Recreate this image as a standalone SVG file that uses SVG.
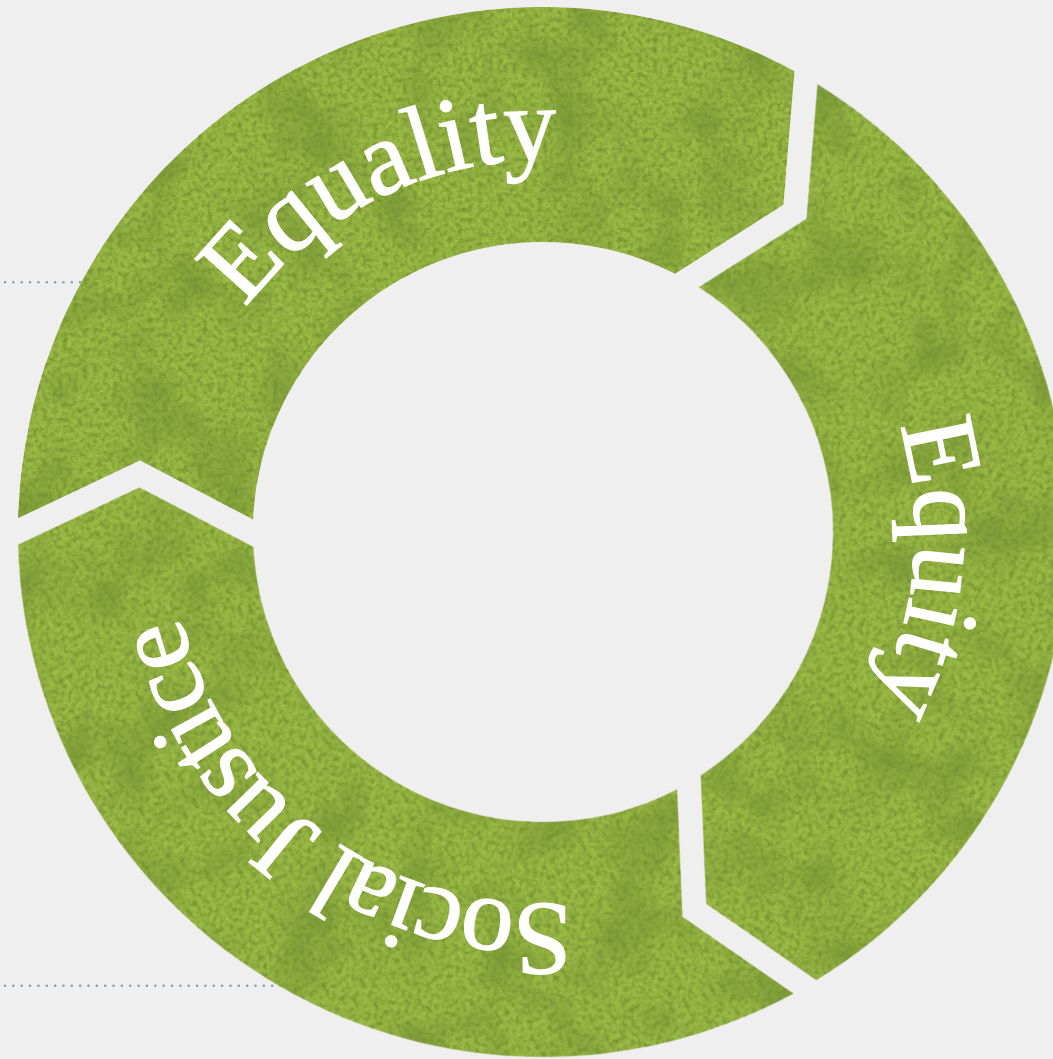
<svg xmlns="http://www.w3.org/2000/svg" xmlns:xlink="http://www.w3.org/1999/xlink" width="1053" height="1059" viewBox="0 0 1053 1059">
  <style>
    .seg { fill: #97b543; filter: url(#paper); }
    .label { font-family: "Liberation Serif", "DejaVu Serif", serif; font-size: 106px; fill: #ffffff; stroke: #ffffff; stroke-width: 1.2px; text-anchor: middle; }
    .leader { fill: none; stroke: #8e9aa7; stroke-width: 2.6; stroke-linecap: round; stroke-dasharray: 0 8.35; }
  </style>
  <defs>
    <!-- mottled watercolour-paper texture for the ring segments -->
    <filter id="paper" x="-10%" y="-10%" width="120%" height="120%" color-interpolation-filters="sRGB">
      <feTurbulence type="fractalNoise" baseFrequency="0.014" numOctaves="3" seed="11" result="blotNoise"/>
      <feColorMatrix in="blotNoise" type="matrix" values="0 0 0 0 0.42  0 0 0 0 0.54  0 0 0 0 0.19  1.7 0 0 0 -0.78" result="blot"/>
      <feTurbulence type="fractalNoise" baseFrequency="0.2" numOctaves="3" seed="4" result="grainNoise"/>
      <feColorMatrix in="grainNoise" type="matrix" values="0 0 0 0 0.45  0 0 0 0 0.57  0 0 0 0 0.19  2.2 0 0 0 -0.9" result="grainSharp"/>
      <feGaussianBlur in="grainSharp" stdDeviation="0.7" result="grain"/>
      <feTurbulence type="fractalNoise" baseFrequency="0.28" numOctaves="2" seed="23" result="speckNoise"/>
      <feColorMatrix in="speckNoise" type="matrix" values="0 0 0 0 0.66  0 0 0 0 0.77  0 0 0 0 0.31  0 1.9 0 0 -0.85" result="speckSharp"/>
      <feGaussianBlur in="speckSharp" stdDeviation="0.6" result="speck"/>
      <feMerge result="mix">
        <feMergeNode in="SourceGraphic"/>
        <feMergeNode in="speck"/>
        <feMergeNode in="blot"/>
        <feMergeNode in="grain"/>
      </feMerge>
      <feComposite in="mix" in2="SourceAlpha" operator="in"/>
    </filter>
    <!-- baseline circle for the labels, clockwise, starting at the lower-right gap -->
    <path id="labelArc" d="M186,322.2 A372,372 0 1 1 -186,-322.2 A372,372 0 1 1 186,322.2"/>
  </defs>

  <rect width="1053" height="1059" fill="#efefef"/>

  <!-- dotted leader lines running in from the left edge -->
  <g id="connectors">
    <line class="leader" x1="5" y1="282.3" x2="95" y2="282.3"/>
    <line class="leader" x1="5" y1="985.7" x2="292" y2="985.7"/>
  </g>

  <!-- three arrow segments of the cycle; each path is one 120° segment
       with a notch at its start and a point at its end, rotated into place -->
  <g id="ring" transform="translate(543,532)">
    <g id="node-equality">
      <path class="seg" transform="rotate(270)" d="M13.8,-524.9 A525,525 0 0 1 460.9,251.4 L327.2,240.5 L258.2,132 A290,290 0 0 0 12.4,-289.75 L71.5,-403 Z"/>
      <text class="label"><textPath href="#labelArc" xlink:href="#labelArc" startOffset="1198">Equality</textPath></text>
    </g>
    <g id="node-equity">
      <path class="seg" transform="rotate(30)" d="M13.8,-524.9 A525,525 0 0 1 460.9,251.4 L327.2,240.5 L258.2,132 A290,290 0 0 0 12.4,-289.75 L71.5,-403 Z"/>
      <text class="label" letter-spacing="0.5"><textPath href="#labelArc" xlink:href="#labelArc" startOffset="1982">Equity</textPath></text>
    </g>
    <g id="node-social-justice">
      <path class="seg" transform="rotate(150)" d="M13.8,-524.9 A525,525 0 0 1 460.9,251.4 L327.2,240.5 L258.2,132 A290,290 0 0 0 12.4,-289.75 L71.5,-403 Z"/>
      <text class="label" letter-spacing="-4"><textPath href="#labelArc" xlink:href="#labelArc" startOffset="428">Social Justice</textPath></text>
    </g>
  </g>
</svg>
